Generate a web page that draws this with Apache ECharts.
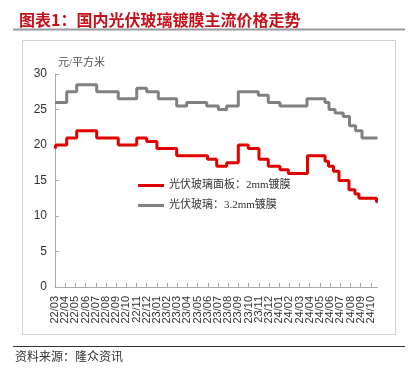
<!DOCTYPE html>
<html>
<head>
<meta charset="utf-8">
<script src="https://cdn.jsdelivr.net/npm/echarts@6/dist/echarts.min.js"></script>
<style>
html,body{margin:0;padding:0;background:#fff;}
#c{width:412px;height:370px;}
</style>
</head>
<body>
<div id="c"></div>
<script>
// Month tick labels (x axis, index 0 = 22/03)
var months = ['22/03','22/04','22/05','22/06','22/07','22/08','22/09','22/10','22/11','22/12',
  '23/01','23/02','23/03','23/04','23/05','23/06','23/07','23/08','23/09','23/10','23/11','23/12',
  '24/01','24/02','24/03','24/04','24/05','24/06','24/07','24/08','24/09','24/10'];
var seriesNames = ['光伏玻璃面板：2mm镀膜', '光伏玻璃：3.2mm镀膜'];
var endPos = 31.65; // last observation position (in months from 22/03)

// 2mm coated panel: step start positions (months) and price (元/平方米)
var redStart = [0,0.1,1.15,2.13,4.09,6.21,8.02,9.0,10.0,11.94,14.97,15.87,16.85,17.99,18.97,20.02,20.93,22.08,22.9,24.78,26.5,26.84,27.33,27.87,28.85,29.44,29.83,31.55];
var redValue = [19.5,20,21,22,21,20,21,20.5,19.5,18.5,18,17,17.5,20,19.5,18,17,16.5,16,18.5,17.7,17,16.3,15,13.7,13.1,12.5,12];

// 3.2mm coated glass
var grayStart = [0,1.15,2.13,4.09,6.21,8.02,9.0,10.14,11.94,12.92,14.89,16.03,16.85,17.99,19.95,20.93,22.08,24.73,26.5,26.89,27.48,28.29,28.9,29.5,30.13];
var grayValue = [26,27.5,28.5,27.5,26.5,28,27.5,26.5,25.5,26,25.5,25,25.5,27.5,27,26,25.5,26.5,26,25,24.5,24,22.7,22,21];

var yTicks = [0,5,10,15,20,25,30];

function build(starts, vals){
  var d = starts.map(function(s,i){ return [s, vals[i]]; });
  d.push([endPos, vals[vals.length-1]]);
  return d;
}

var W = 412, gl = 55, gr = 377.5;
var monthPx = (gr - gl) / endPos;
var chart = echarts.init(document.getElementById('c'), null, {renderer:'canvas'});
var cjk = "'Liberation Serif','Noto Sans CJK SC',serif";
chart.setOption({
  animation:false,
  backgroundColor:'#fff',
  title:{
    text:'图表1：国内光伏玻璃镀膜主流价格走势',
    left:14, top:7,
    textStyle:{color:'#C8101A', fontSize:16, fontWeight:'bold', fontFamily:"'Noto Sans CJK SC'"}
  },
  graphic:[
    {type:'line', shape:{x1:13,y1:29.5,x2:405,y2:29.5}, style:{stroke:'#999',lineWidth:2}},
    {type:'rect', shape:{x:22.5,y:40.5,width:373,height:294}, style:{fill:'none',stroke:'#d0d0d0',lineWidth:1}},
    {type:'line', shape:{x1:13,y1:346.5,x2:405,y2:346.5}, style:{stroke:'#333',lineWidth:1}},
    {type:'text', left:15, top:350, style:{text:'资料来源：隆众资讯', fill:'#333', font:"12px 'Noto Sans CJK SC'"}}
  ],
  grid:[
    {left:gl, right:W-gr, top:74, bottom:83, containLabel:false},
    {left:gl, width:(months.length-1)*monthPx, top:74, bottom:83, containLabel:false}
  ],
  legend:{
    data:seriesNames,
    orient:'vertical', left:133, top:175,
    icon:'rect', itemWidth:26, itemHeight:3, itemGap:9,
    textStyle:{fontSize:11, color:'#333', fontFamily:cjk}
  },
  xAxis:[
    {
      gridIndex:0, type:'value', min:0, max:endPos,
      axisLine:{lineStyle:{color:'#aaa'}},
      axisTick:{show:false}, axisLabel:{show:false},
      splitLine:{show:false}
    },
    {
      gridIndex:1, type:'category', data:months, boundaryGap:false,
      axisLine:{show:false},
      axisTick:{show:true, inside:true, length:4, interval:0, lineStyle:{color:'#aaa'}},
      splitLine:{show:false},
      axisLabel:{rotate:90, interval:0, fontSize:11, color:'#333', margin:9, fontFamily:'Liberation Sans, Arial'}
    }
  ],
  yAxis:[
    {
      gridIndex:0, type:'value', min:yTicks[0], max:yTicks[yTicks.length-1], interval:5,
      name:'元/平方米', nameLocation:'end', nameGap:5,
      nameTextStyle:{align:'left', color:'#555', fontSize:11, fontFamily:cjk, padding:[0,0,0,3]},
      axisLine:{show:true, lineStyle:{color:'#aaa'}},
      axisTick:{show:true, inside:true, length:4, lineStyle:{color:'#aaa'}},
      splitLine:{show:false},
      axisLabel:{fontSize:12, color:'#333', margin:8, fontFamily:'Liberation Sans, Arial'}
    },
    {gridIndex:1, type:'value', min:0, max:30, show:false}
  ],
  series:[
    {name:seriesNames[0], type:'line', step:'end', symbol:'none', data:build(redStart, redValue),
     xAxisIndex:0, yAxisIndex:0,
     lineStyle:{color:'#E00000', width:3}, itemStyle:{color:'#E00000'}},
    {name:seriesNames[1], type:'line', step:'end', symbol:'none', data:build(grayStart, grayValue),
     xAxisIndex:0, yAxisIndex:0,
     lineStyle:{color:'#808080', width:3}, itemStyle:{color:'#808080'}}
  ]
});
</script>
</body>
</html>
